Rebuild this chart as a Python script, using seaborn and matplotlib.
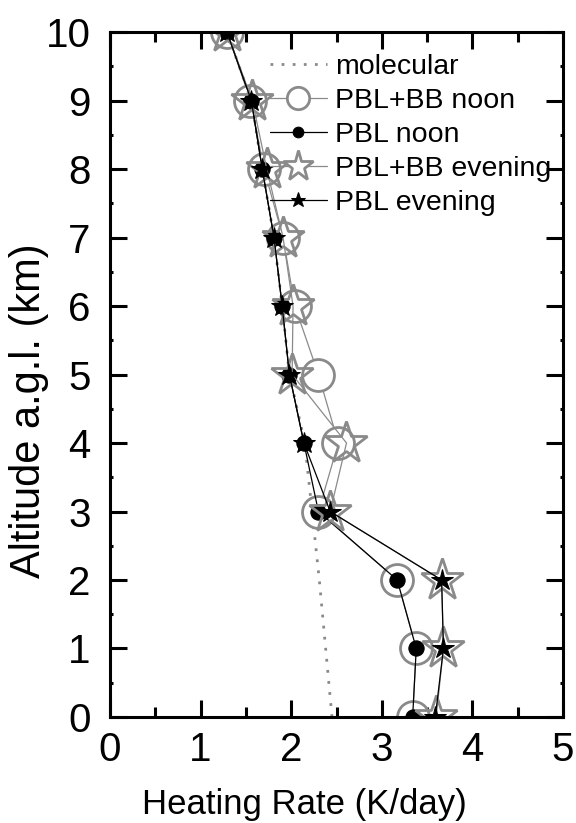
import numpy as np
import matplotlib
matplotlib.use("Agg")
import matplotlib.pyplot as plt
import seaborn as sns

# Datos
altitude = [0, 1, 2, 3, 4, 5, 6, 7, 8, 9, 10]
molecular = [2.45, 2.38, 2.31, 2.23, 2.15, 1.98, 1.90, 1.81, 1.68, 1.56, 1.29]
pbl_bb_noon = [3.34, 3.38, 3.17, 2.30, 2.52, 2.30, 2.04, 1.91, 1.70, 1.55, 1.29]
pbl_noon = [3.34, 3.38, 3.17, 2.30, 2.14, 1.98, 1.90, 1.81, 1.68, 1.56, 1.29]
pbl_bb_evening = [3.60, 3.68, 3.66, 2.43, 2.61, 2.01, 2.02, 1.91, 1.73, 1.57, 1.29]
pbl_evening = [3.59, 3.68, 3.66, 2.43, 2.14, 1.98, 1.90, 1.81, 1.68, 1.56, 1.29]

sns.set_style("ticks")
plt.rcParams["font.family"] = ["Liberation Sans", "DejaVu Sans"]
plt.rcParams["text.color"] = "black"
plt.rcParams["axes.labelcolor"] = "black"
plt.rcParams["xtick.color"] = "black"
plt.rcParams["ytick.color"] = "black"

fig = plt.figure(figsize=(5.76, 8.23), dpi=100)
ax = fig.add_axes([0.191, 0.1288, 0.7865, 0.8323])

grey = "#8a8a8a"

sns.lineplot(x=molecular, y=altitude, orient="y", sort=False, ax=ax,
             color=grey, linestyle=(0, (1, 3)), linewidth=2, label="molecular")
sns.lineplot(x=pbl_bb_noon, y=altitude, orient="y", sort=False, ax=ax,
             color=grey, linewidth=0.9, marker="o", markersize=23,
             markerfacecolor="white", markeredgecolor=grey, markeredgewidth=2,
             label="PBL+BB noon")
sns.lineplot(x=pbl_noon, y=altitude, orient="y", sort=False, ax=ax,
             color="black", linewidth=0.9, marker="o", markersize=11,
             markerfacecolor="black", markeredgecolor="black",
             label="PBL noon")
sns.lineplot(x=pbl_bb_evening, y=altitude, orient="y", sort=False, ax=ax,
             color=grey, linewidth=0.9, marker="*", markersize=32,
             markerfacecolor="none", markeredgecolor=grey, markeredgewidth=2,
             label="PBL+BB evening")
sns.lineplot(x=pbl_evening, y=altitude, orient="y", sort=False, ax=ax,
             color="black", linewidth=0.9, marker="*", markersize=16,
             markerfacecolor="black", markeredgecolor="black",
             label="PBL evening")

ax.set_xlim(0, 5)
ax.set_ylim(0, 10)
ax.set_xticks(range(0, 6))
ax.set_yticks(range(0, 11))
ax.set_xticks(np.arange(0.5, 5, 1), minor=True)
ax.set_yticks(np.arange(0.5, 10, 1), minor=True)
ax.tick_params(which="both", direction="in", top=True, right=True, width=2.2)
ax.tick_params(which="major", length=12, labelsize=29)
ax.tick_params(axis="x", which="major", pad=10)
ax.tick_params(axis="y", which="major", pad=14)
ax.tick_params(axis="x", which="minor", length=7)
ax.tick_params(axis="y", which="minor", length=2.5)
for s in ax.spines.values():
    s.set_linewidth(2.2)
    s.set_color("black")
    s.set_visible(True)

ax.set_xlabel("Heating Rate (K/day)", fontsize=25, va="center")
ax.xaxis.set_label_coords(0.43, -0.128)
ax.set_ylabel("Altitude a.g.l. (km)", fontsize=30, va="center")
ax.yaxis.set_label_coords(-0.178, 0.447)

leg = ax.legend(loc="upper right", frameon=False, fontsize=20.5,
                handlelength=2.0, handletextpad=0.3, labelspacing=0.28,
                borderaxespad=0.0, bbox_to_anchor=(1.0, 0.985), markerscale=0.7)
# estrella abierta con fondo blanco en la leyenda
leg.get_lines()[3].set_markerfacecolor("white")

fig.savefig("out.png", dpi=100)
